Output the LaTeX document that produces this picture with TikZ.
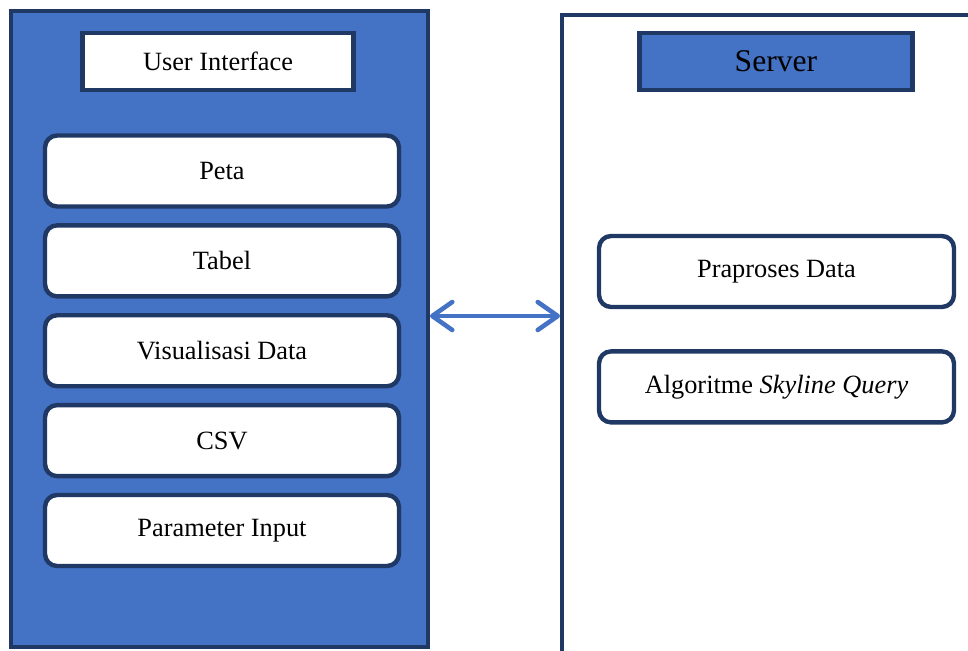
\documentclass[tikz,border=0pt]{standalone}
\usepackage{fontspec}
\setmainfont{Liberation Serif}
\usepackage{tikz}
\usetikzlibrary{arrows.meta,positioning}
\definecolor{ui-fill}{HTML}{4472C4}
\definecolor{ui-line}{HTML}{203864}

\begin{document}
\begin{tikzpicture}[x=0.02cm, y=-0.02cm, node distance=0.29cm,
    panel/.style={draw=ui-line, line width=2.3pt},
    headbox/.style={draw=ui-line, line width=2.6pt, inner sep=0pt, minimum height=1.14cm},
    itembox/.style={draw=ui-line, fill=white, line width=2.5pt, rounded corners=0.24cm, inner sep=0pt,
        minimum width=7.08cm, minimum height=1.42cm, font=\fontsize{15}{18}\selectfont},
    link/.style={draw=ui-fill, line width=2.6pt, line cap=round,
        {Straight Barb[length=0.4cm, width=0.56cm, round]}-{Straight Barb[length=0.4cm, width=0.56cm, round]}}]
    \useasboundingbox (0,0) rectangle (968,650);

    % two sides
    \node[panel, fill=ui-fill, minimum width=8.34cm, minimum height=12.72cm] (client) at (219.5,329) {};
    \node[panel, fill=white, minimum width=8.76cm, minimum height=13.7cm] (server) at (781,357.5) {};

    % left: user interface
    \node[headbox, fill=white, minimum width=5.42cm, font=\fontsize{15}{18}\selectfont] (uititle) at (218,61.5) {User Interface};
    \node[itembox] (peta) at (222,171) {Peta};
    \node[itembox, below=of peta] (tabel) {Tabel};
    \node[itembox, below=of tabel] (visual) {Visualisasi Data};
    \node[itembox, below=of visual] (csv) {CSV};
    \node[itembox, below=of csv] (param) {Parameter Input};

    % right: server
    \node[headbox, fill=ui-fill, minimum width=5.46cm, font=\fontsize{18}{21}\selectfont] (srvtitle) at (776,61.5) {Server};
    \node[itembox, minimum width=7.1cm] (praproses) at (776.5,271.5) {Praproses Data};
    \node[itembox, minimum width=7.1cm, below=0.8cm of praproses] (skyline) {Algoritme \textit{Skyline Query}};

    \coordinate (mid) at (495,316);
    \draw[link] (mid -| client.east) -- (mid -| server.west);
\end{tikzpicture}
\end{document}
